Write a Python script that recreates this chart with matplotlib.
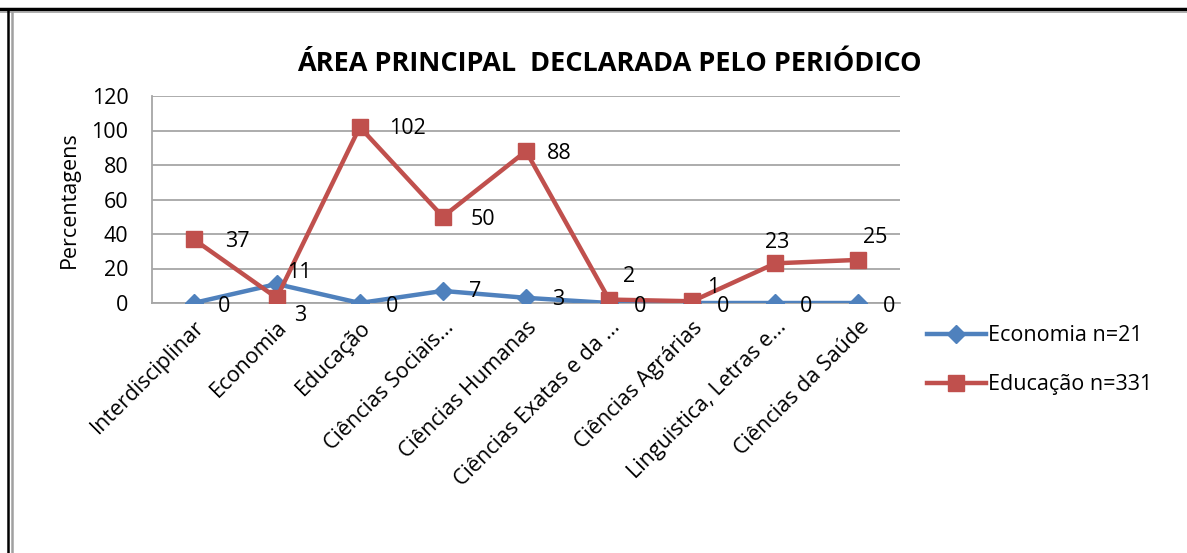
import matplotlib.pyplot as plt
from matplotlib.lines import Line2D

categorias = ["Interdisciplinar", "Economia", "Educação", "Ciências Sociais...",
              "Ciências Humanas", "Ciências Exatas e da ...", "Ciências Agrárias",
              "Linguistica, Letras e...", "Ciências da Saúde"]
economia = [0, 11, 0, 7, 3, 0, 0, 0, 0]
educacao = [37, 3, 102, 50, 88, 2, 1, 23, 25]
yticks = [0, 20, 40, 60, 80, 100, 120]

# onde ficam os rotulos de dados (pixels a partir do ponto)
off_eco = [(31, -3), (23, 12), (32, -3), (32, -1), (32, -2), (31, -3), (31, -3), (31, -3), (31, -3)]
off_edu = [(44, -2), (24, -18), (48, -1), (40, -3), (33, -2), (20, 23), (21, 14), (2, 21), (17, 22)]

azul = "#4F81BD"
vermelho = "#C0504D"
plt.rcParams['font.family'] = ['Open Sans', 'DejaVu Sans']
fs = 15.5

fig = plt.figure(figsize=(11.87, 5.53), dpi=100)
ax = fig.add_axes([152/1187, 1 - 303/553, 748/1187, 207/553])

x = list(range(len(categorias)))
ax.plot(x, economia, color=azul, lw=3.2, marker="D", ms=9, zorder=3)
ax.plot(x, educacao, color=vermelho, lw=3.2, marker="s", ms=12, zorder=4)

for i in x:
    ax.annotate(str(economia[i]), (i, economia[i]), xytext=off_eco[i], textcoords="offset pixels",
                ha="center", va="center", fontsize=fs, zorder=5)
    ax.annotate(str(educacao[i]), (i, educacao[i]), xytext=off_edu[i], textcoords="offset pixels",
                ha="center", va="center", fontsize=fs, zorder=5)

ax.set_xlim(-0.5, len(categorias) - 0.5)
ax.set_ylim(0, 120)
ax.set_yticks(yticks)
ax.set_xticks(x)
ax.set_xticklabels(categorias, rotation=45, ha="right", rotation_mode="anchor", fontsize=fs)
ax.tick_params(axis="x", length=0, pad=10)
ax.tick_params(axis="y", length=0, pad=17, labelsize=fs)
ax.grid(axis="y", color="#a6a6a6", lw=1.3)
ax.set_axisbelow(True)
for s in ["top", "right"]:
    ax.spines[s].set_visible(False)
ax.spines["left"].set_color("#a6a6a6")
ax.spines["bottom"].set_color("#a6a6a6")
ax.spines["left"].set_linewidth(1.3)
ax.spines["bottom"].set_linewidth(1.3)
ax.set_ylabel("Percentagens", fontsize=fs, labelpad=8)

fig.text(609/1187, 1 - 64/553, "ÁREA PRINCIPAL  DECLARADA PELO PERIÓDICO",
         ha="center", va="center", fontsize=19.5, fontweight="bold")

handles = [Line2D([], [], color=azul, lw=3.2, marker="D", ms=9),
           Line2D([], [], color=vermelho, lw=3.2, marker="s", ms=12)]
fig.legend(handles, ["Economia n=21", "Educação n=331"], loc="upper left",
           bbox_to_anchor=(908/1187, 1 - 306/553), frameon=False, fontsize=fs,
           handlelength=2.7, handletextpad=0.1, labelspacing=1.3)

# moldura
fig.add_artist(Line2D([0, 1], [1 - 9/553, 1 - 9/553], color="black", lw=2.5))
fig.add_artist(Line2D([0, 1], [1 - 12/553, 1 - 12/553], color="#a0a0a0", lw=1.2))
fig.add_artist(Line2D([8/1187, 8/1187], [0, 1 - 9/553], color="black", lw=1.8))
fig.add_artist(Line2D([12/1187, 12/1187], [0, 1 - 12/553], color="#a0a0a0", lw=1.8))

fig.savefig("out.png", dpi=100)
